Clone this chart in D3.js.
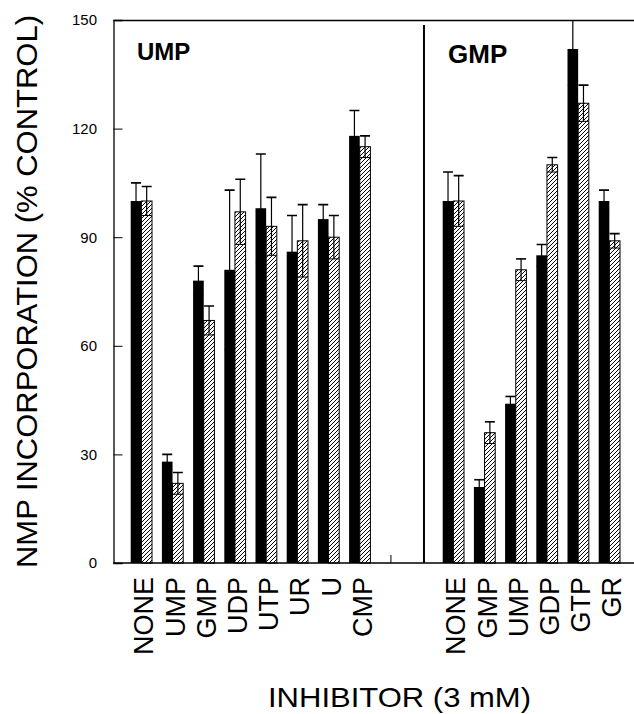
<!DOCTYPE html>
<html>
<head>
<meta charset="utf-8">
<script src="https://cdn.jsdelivr.net/npm/d3@7"></script>
<style>
  body { margin: 0; background: #fff; }
  text { font-family: "Liberation Sans", Arial, sans-serif; fill: #000; }
</style>
</head>
<body>
<div id="chart"></div>
<script>
const WIDTH = 634;
const HEIGHT = 714;

// left panel: UMP incorporation
const umpInhibitors = ["NONE", "UMP", "GMP", "UDP", "UTP", "UR", "U", "CMP"];
const umpSolid = [100, 28, 78, 81, 98, 86, 95, 118];
const umpSolidErr = [5, 2, 4, 22, 15, 10, 4, 7];
const umpHatched = [100, 22, 67, 97, 93, 89, 90, 115];
const umpHatchedErr = [4, 3, 4, 9, 8, 10, 6, 3];

// right panel: GMP incorporation
const gmpInhibitors = ["NONE", "GMP", "UMP", "GDP", "GTP", "GR"];
const gmpSolid = [100, 21, 44, 85, 142, 100];
const gmpSolidErr = [8, 2, 2, 3, 10, 3];
const gmpHatched = [100, 36, 81, 110, 127, 89];
const gmpHatchedErr = [7, 3, 3, 2, 5, 2];

const yTicks = [0, 30, 60, 90, 120, 150];
const seriesKeys = ["solid", "hatched"];

// one slot per group, two empty slots between the panels
const slots = [
  ...umpInhibitors.map((d, i) => "u" + i),
  "gap1", "gap2",
  ...gmpInhibitors.map((d, i) => "g" + i)
];

const rows = [];
umpInhibitors.forEach((name, i) => {
  rows.push({slot: "u" + i, name, solid: umpSolid[i], solidErr: umpSolidErr[i],
             hatched: umpHatched[i], hatchedErr: umpHatchedErr[i]});
});
gmpInhibitors.forEach((name, i) => {
  rows.push({slot: "g" + i, name, solid: gmpSolid[i], solidErr: gmpSolidErr[i],
             hatched: gmpHatched[i], hatchedErr: gmpHatchedErr[i]});
});

// flat list of bars
const bars = [];
rows.forEach(r => seriesKeys.forEach(k => {
  bars.push({slot: r.slot, key: k, value: r[k], err: r[k + "Err"]});
}));

const LEFT = 113.5, TOP = 20, BOTTOM = 563;

const x = d3.scaleBand()
  .domain(slots)
  .range([125.75, 624.95])
  .paddingInner(0.317)
  .paddingOuter(0.1585);

const xs = d3.scaleBand()
  .domain(seriesKeys)
  .range([0, x.bandwidth()]);

const y = d3.scaleLinear()
  .domain([0, 150])
  .range([BOTTOM, TOP]);

const barX = d => x(d.slot) + xs(d.key);
const barMid = d => barX(d) + xs.bandwidth() / 2;

const svg = d3.select("#chart").append("svg")
  .attr("width", WIDTH).attr("height", HEIGHT);

const defs = svg.append("defs");
defs.append("pattern")
  .attr("id", "hatch")
  .attr("patternUnits", "userSpaceOnUse")
  .attr("width", 4).attr("height", 4)
  .append("path")
  .attr("d", "M-1,1 L1,-1 M0,4 L4,0 M3,5 L5,3")
  .attr("stroke", "#000")
  .attr("stroke-width", 1);

defs.append("clipPath").attr("id", "plot")
  .append("rect")
  .attr("x", LEFT).attr("y", TOP)
  .attr("width", WIDTH - LEFT).attr("height", BOTTOM - TOP);

// bars
svg.append("g").selectAll("rect")
  .data(bars)
  .join("rect")
  .attr("x", barX)
  .attr("y", d => y(d.value))
  .attr("width", xs.bandwidth())
  .attr("height", d => y(0) - y(d.value))
  .attr("fill", d => d.key === "solid" ? "#000" : "url(#hatch)")
  .attr("stroke", "#000")
  .attr("stroke-width", d => d.key === "solid" ? 0 : 1);

// error bars
const errs = svg.append("g")
  .attr("clip-path", "url(#plot)")
  .attr("stroke", "#000")
  .selectAll("g")
  .data(bars)
  .join("g")
  .attr("transform", d => `translate(${barMid(d)},0)`);

errs.append("line")
  .attr("y1", d => y(d.value - d.err))
  .attr("y2", d => y(d.value + d.err))
  .attr("stroke-width", 1.2);
errs.append("line")
  .attr("x1", -5).attr("x2", 5)
  .attr("y1", d => y(d.value + d.err))
  .attr("y2", d => y(d.value + d.err))
  .attr("stroke-width", 1.6);
errs.append("line")
  .attr("x1", -5).attr("x2", 5)
  .attr("y1", d => y(d.value - d.err))
  .attr("y2", d => y(d.value - d.err))
  .attr("stroke-width", 1);

// frame
const frame = svg.append("g").attr("stroke", "#000").attr("fill", "none");
frame.append("line").attr("x1", LEFT).attr("x2", WIDTH).attr("y1", TOP + 0.5).attr("y2", TOP + 0.5).attr("stroke-width", 1.3);
frame.append("line").attr("x1", LEFT).attr("x2", WIDTH).attr("y1", BOTTOM).attr("y2", BOTTOM).attr("stroke-width", 1.3);

const divX = x("gap2") + x.step() * 0.4;
frame.append("line").attr("x1", divX).attr("x2", divX).attr("y1", TOP + 5).attr("y2", BOTTOM).attr("stroke-width", 2);

const gapTick = x("gap1") + x.bandwidth() / 2;
frame.append("line").attr("x1", gapTick).attr("x2", gapTick).attr("y1", BOTTOM).attr("y2", BOTTOM - 8).attr("stroke-width", 1);

// y axis with inward ticks
const yAxis = svg.append("g")
  .attr("transform", `translate(${LEFT},0)`)
  .call(d3.axisRight(y).tickValues(yTicks).tickSize(9).tickFormat(""));
yAxis.select(".domain").attr("stroke-width", 1.3);
yAxis.selectAll(".tick line").attr("stroke-width", 1);

svg.append("g").selectAll("text")
  .data(yTicks)
  .join("text")
  .attr("x", 97)
  .attr("y", d => y(d))
  .attr("dy", "0.36em")
  .attr("text-anchor", "end")
  .attr("font-size", 15)
  .text(d => d);

// category labels
svg.append("g").selectAll("text")
  .data(rows)
  .join("text")
  .attr("transform", d => `translate(${x(d.slot) + x.bandwidth() / 2 + 12},577) rotate(-90)`)
  .attr("text-anchor", "end")
  .attr("font-size", 27)
  .text(d => d.name);

// panel labels
svg.append("text")
  .attr("x", 137).attr("y", 59.5)
  .attr("font-size", 24).attr("font-weight", "bold")
  .text("UMP");
svg.append("text")
  .attr("x", 448).attr("y", 62.5)
  .attr("font-size", 26).attr("font-weight", "bold")
  .text("GMP");

// axis titles
svg.append("text")
  .attr("transform", "translate(37,291.5) rotate(-90)")
  .attr("text-anchor", "middle")
  .attr("font-size", 29)
  .attr("textLength", 553)
  .attr("lengthAdjust", "spacingAndGlyphs")
  .text("NMP INCORPORATION (% CONTROL)");

svg.append("text")
  .attr("x", 399.5).attr("y", 707)
  .attr("text-anchor", "middle")
  .attr("font-size", 28.5)
  .attr("textLength", 263)
  .attr("lengthAdjust", "spacingAndGlyphs")
  .text("INHIBITOR (3 mM)");
</script>
</body>
</html>
